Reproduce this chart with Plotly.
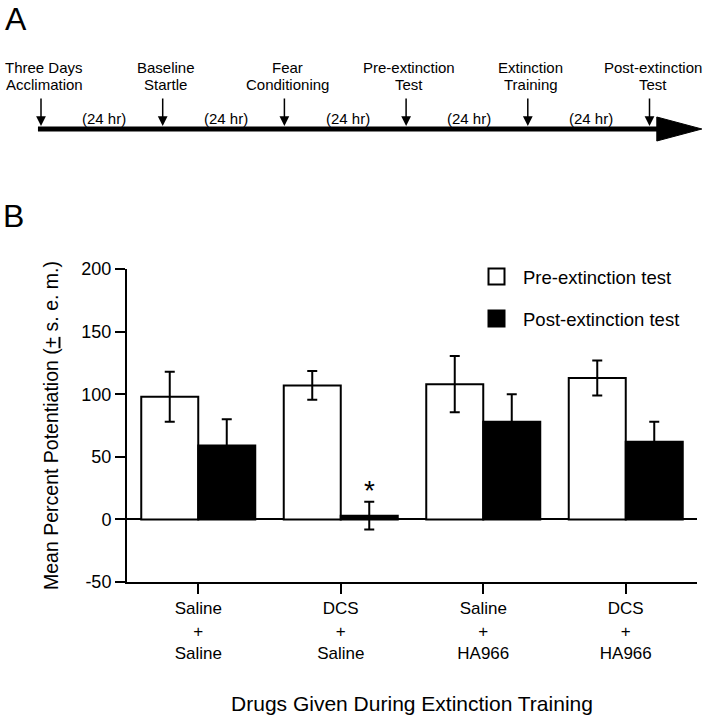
import plotly.graph_objects as go

# ---------------- data ----------------
categories = ["Saline<br>+<br>Saline", "DCS<br>+<br>Saline", "Saline<br>+<br>HA966", "DCS<br>+<br>HA966"]
pre_values = [98, 107, 108, 113]
pre_errors = [20, 11.5, 22.5, 14]
post_values = [59, 3, 78, 62]
post_errors = [21, 11, 22, 16]
significant = [False, True, False, False]

y_tick_values = [-50, 0, 50, 100, 150, 200]
y_tick_labels = ["-50", "0", "50", "100", "150", "200"]

event_line1 = ["Three Days", "Baseline", "Fear", "Pre-extinction", "Extinction", "Post-extinction"]
event_line2 = ["Acclimation", "Startle", "Conditioning", "Test", "Training", "Test"]
event_days = [0, 1, 2, 3, 4, 5]
interval_label = "(24 hr)"

# ---------------- layout helpers ----------------
W, H = 704, 719
FONT = "Liberation Sans, Arial, Helvetica, sans-serif"


def px_x(p):
    return p / W


def px_y(p):
    return 1 - p / H


x_idx = list(range(len(categories)))

fig = go.Figure()

fig.add_trace(go.Bar(
    x=x_idx, y=pre_values, name="Pre-extinction test", showlegend=False,
    marker=dict(color="white", line=dict(color="black", width=2)),
    error_y=dict(type="data", array=pre_errors, visible=True, color="black", thickness=2, width=5),
))
fig.add_trace(go.Bar(
    x=x_idx, y=post_values, name="Post-extinction test", showlegend=False,
    marker=dict(color="black", line=dict(color="black", width=2)),
    error_y=dict(type="data", array=post_errors, visible=True, color="black", thickness=2, width=5),
))

# legend entries (larger squares)
fig.add_trace(go.Scatter(
    x=[None], y=[None], mode="markers", name="Pre-extinction test", legendgroup="a",
    marker=dict(symbol="square", size=16, color="white", line=dict(color="black", width=2)),
))
fig.add_trace(go.Scatter(
    x=[None], y=[None], mode="markers", name="Post-extinction test", legendgroup="b",
    marker=dict(symbol="square", size=16, color="black", line=dict(color="black", width=2)),
))

annotations = []
# significance stars
for i, sig in enumerate(significant):
    if sig:
        annotations.append(dict(
            x=i + 0.2, y=post_values[i] + post_errors[i] + 9, xref="x", yref="y",
            text="*", showarrow=False, font=dict(family=FONT, size=28, color="black"),
        ))

# ---------------- timeline (panel A) ----------------
DAY_PX = 121.7
DAY0_PX = 41
tl_range = [-DAY0_PX / DAY_PX, (W - DAY0_PX) / DAY_PX]
tip_day = event_days[-1] + 0.43
head_len = 0.37
LINE_Y = 129
TL_FONT = dict(family=FONT, size=15, color="black")

for d, l1, l2 in zip(event_days, event_line1, event_line2):
    annotations.append(dict(x=d, y=67, xref="x2", yref="y2", text=l1, showarrow=False, xshift=3,
                            xanchor="center", yanchor="middle", font=TL_FONT))
    annotations.append(dict(x=d, y=84, xref="x2", yref="y2", text=l2, showarrow=False, xshift=3,
                            xanchor="center", yanchor="middle", font=TL_FONT))
    annotations.append(dict(x=d, y=126, ax=d, ay=97, xref="x2", yref="y2", axref="x2", ayref="y2",
                            text="", showarrow=True, arrowhead=2, arrowsize=1.3, arrowwidth=1.5,
                            arrowcolor="black"))
for d0, d1 in zip(event_days[:-1], event_days[1:]):
    annotations.append(dict(x=(d0 + d1) / 2 + 0.02, y=118, xref="x2", yref="y2", text=interval_label,
                            showarrow=False, xanchor="center", yanchor="middle", font=TL_FONT))

shapes = [
    dict(type="line", xref="x2", yref="y2", x0=-0.025, x1=tip_day - head_len + 0.02, y0=LINE_Y, y1=LINE_Y,
         line=dict(color="black", width=5)),
    dict(type="path", xref="x2", yref="y2",
         path=f"M {tip_day - head_len} {LINE_Y - 12} L {tip_day} {LINE_Y} L {tip_day - head_len} {LINE_Y + 12} Z",
         fillcolor="black", line=dict(color="black", width=1)),
]

# panel letters
annotations.append(dict(x=px_x(16), y=px_y(19), xref="paper", yref="paper", text="A", showarrow=False,
                        xanchor="center", yanchor="middle", font=dict(family=FONT, size=32, color="black")))
annotations.append(dict(x=px_x(13), y=px_y(216), xref="paper", yref="paper", text="B", showarrow=False,
                        xanchor="center", yanchor="middle", font=dict(family=FONT, size=32, color="black")))

fig.update_layout(
    width=W, height=H, autosize=False,
    margin=dict(l=0, r=0, t=0, b=0, pad=0, autoexpand=False),
    paper_bgcolor="white", plot_bgcolor="rgba(0,0,0,0)",
    font=dict(family=FONT, color="black", size=18),
    barmode="group", bargap=0.2, bargroupgap=0,
    xaxis=dict(
        domain=[px_x(127), px_x(697)], range=[-0.5, 3.5], automargin=False,
        tickvals=x_idx, ticktext=categories, tickfont=dict(size=17),
        ticks="outside", ticklen=10, tickwidth=2, tickcolor="black",
        showline=True, linewidth=2, linecolor="black", showgrid=False, zeroline=False,
        title=dict(text="Drugs Given During Extinction Training", font=dict(size=21), standoff=35),
        anchor="y",
    ),
    yaxis=dict(
        domain=[px_y(582), px_y(269)], range=[-50, 200], automargin=False,
        tickvals=y_tick_values, ticktext=y_tick_labels, tickfont=dict(size=18),
        ticks="outside", ticklen=10, tickwidth=2, tickcolor="black",
        showline=True, linewidth=2, linecolor="black", showgrid=False,
        zeroline=True, zerolinewidth=2, zerolinecolor="black",
        title=dict(text="Mean Percent Potentiation (<u>+</u> s. e. m.)", font=dict(size=19.5), standoff=18),
        anchor="x",
    ),
    xaxis2=dict(domain=[0, 1], range=tl_range, visible=False, anchor="y2", fixedrange=True, automargin=False),
    yaxis2=dict(domain=[0, 1], range=[H, 0], visible=False, anchor="x2", fixedrange=True, automargin=False),
    legend=dict(
        x=px_x(470), y=px_y(258), xanchor="left", yanchor="top",
        font=dict(size=18.5), itemwidth=43, tracegroupgap=15,
        bgcolor="rgba(0,0,0,0)", borderwidth=0, traceorder="grouped",
    ),
    annotations=annotations,
    shapes=shapes,
)

post_js = (
    "var gd=document.getElementById('{plot_id}');"
    "gd.style.position='fixed';gd.style.top='0px';gd.style.left='0px';"
    "document.body.style.margin='0';document.body.style.overflow='hidden';"
    "document.documentElement.style.overflow='hidden';"
)
fig.write_html("out.html", config={"displayModeBar": False}, post_script=post_js)
